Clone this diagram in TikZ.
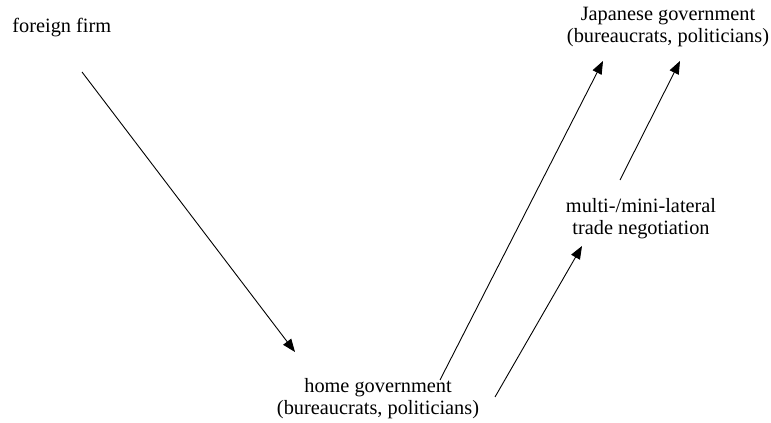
\documentclass[tikz,border=0pt]{standalone}
\usepackage{fontspec}
\setmainfont{Liberation Serif}
\usepackage{tikz}
\usetikzlibrary{arrows.meta,positioning,calc}

\begin{document}
\begin{tikzpicture}
[	x=0.5bp, y=-0.5bp,
	>={Triangle[length=6.5pt,width=5pt]},
	every node/.style = {inner sep=0, align=center, font=\fontsize{10.2}{11.2}\selectfont},
	every path/.style = {line width=0.45pt}
]
\useasboundingbox (0,0) rectangle (771,423);

\node[anchor=base west] (firm) at (12,33) {foreign firm};
\node[anchor=base] (japan) at (668,43) {Japanese government\\(bureaucrats, politicians)};
\node[anchor=base] (trade) at (641,235) {multi-/mini-lateral\\trade negotiation};
\node[anchor=base] (home) at (378,415) {home government\\(bureaucrats, politicians)};

% loose ends of the arrows
\coordinate (firm out) at (82,72);
\coordinate (home in) at (295,352);
\coordinate (home out1) at (440,380);
\coordinate (home out2) at (495,397);
\coordinate (japan in1) at (603,61);
\coordinate (japan in2) at (680,61);
\coordinate (trade in) at (582,246);
\coordinate (trade out) at (620,180);

\draw[->] (firm out) -- (home in);
\draw[->] (home out1) -- (japan in1);
\draw[->] (home out2) -- (trade in);
\draw[->] (trade out) -- (japan in2);

\end{tikzpicture}
\end{document}
